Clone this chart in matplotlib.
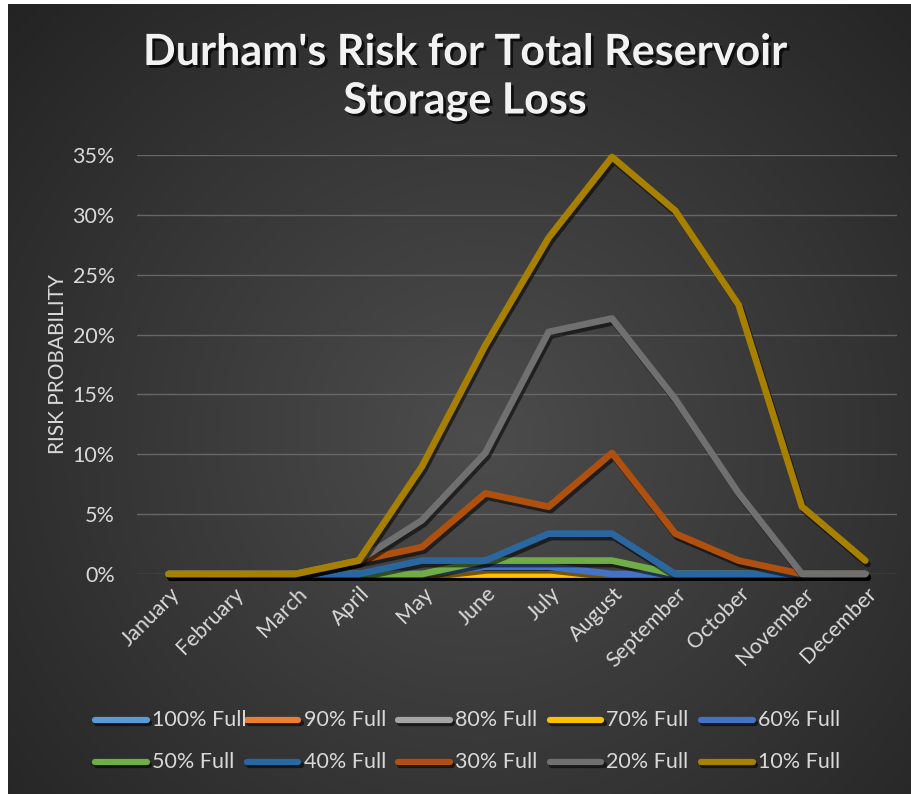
import numpy as np
import matplotlib
matplotlib.use("Agg")
import matplotlib.pyplot as plt
import matplotlib.patheffects as pe
import matplotlib.transforms as mtransforms
from matplotlib.lines import Line2D
from matplotlib.ticker import FuncFormatter, MultipleLocator

plt.rcParams['font.family'] = ['Lato', 'DejaVu Sans']

months = ["January", "February", "March", "April", "May", "June",
          "July", "August", "September", "October", "November", "December"]

series_names = ["100% Full", "90% Full", "80% Full", "70% Full", "60% Full",
                "50% Full", "40% Full", "30% Full", "20% Full", "10% Full"]

full_100 = [0, 0, 0, 0, 0, 0, 0, 0, 0, 0, 0, 0]
full_90 = [0, 0, 0, 0, 0, 0, 0, 0, 0, 0, 0, 0]
full_80 = [0, 0, 0, 0, 0, 0, 0, 0, 0, 0, 0, 0]
full_70 = [0, 0, 0, 0, 0, 0, 0, 0, 0, 0, 0, 0]
full_60 = [0, 0, 0, 0, 0, 0.6, 0.6, 0, 0, 0, 0, 0]
full_50 = [0, 0, 0, 0, 0, 1.12, 1.12, 1.12, 0, 0, 0, 0]
full_40 = [0, 0, 0, 0, 1.12, 1.12, 3.37, 3.37, 0, 0, 0, 0]
full_30 = [0, 0, 0, 1.12, 2.25, 6.74, 5.62, 10.11, 3.37, 1.12, 0, 0]
full_20 = [0, 0, 0, 1.12, 4.49, 10.11, 20.22, 21.35, 14.61, 6.74, 0, 0]
full_10 = [0, 0, 0, 1.12, 8.99, 19.1, 28.09, 34.83, 30.34, 22.47, 5.62, 1.12]

series_values = [full_100, full_90, full_80, full_70, full_60,
                 full_50, full_40, full_30, full_20, full_10]

line_colors = ["#5B9BD5", "#ED7D31", "#A5A5A5", "#FFC000", "#4472C4",
               "#70AD47", "#2A67A0", "#AF500F", "#707070", "#A88000"]

W, H = 912, 794
fig = plt.figure(figsize=(W / 100, H / 100), dpi=100, facecolor="white")

# dark radial-gradient backdrop (white strip on left and top edges)
bg = fig.add_axes([8 / W, 0, 1 - 8 / W, 1 - 4 / H], zorder=-10)
yy, xx = np.mgrid[0:1:400j, 0:1:460j]
r = np.sqrt(((xx - 0.52) / 0.75) ** 2 + ((yy - 0.45) / 0.85) ** 2)
shade = np.clip(0.30 - 0.17 * r, 0.13, 0.32)
bg.imshow(np.dstack([shade] * 3), aspect="auto", extent=[0, 1, 0, 1], origin="lower")
bg.set_axis_off()

left, right = 137 / W, 897 / W
bottom, top = 1 - 574 / H, 1 - 155 / H
ax = fig.add_axes([left, bottom, right - left, top - bottom])
ax.set_facecolor("none")

x = np.arange(len(months))
shadow = [pe.SimpleLineShadow(offset=(1.5, -2.5), shadow_color="black", alpha=0.55),
          pe.Normal()]
for name, vals, col in zip(series_names, series_values, line_colors):
    ax.plot(x, vals, color=col, lw=4.8, solid_joinstyle="round",
            solid_capstyle="round", path_effects=shadow, label=name, clip_on=False)

ax.set_xlim(-0.5, len(months) - 0.5)
ax.set_ylim(0, 35)
ax.yaxis.set_major_locator(MultipleLocator(5))
ax.yaxis.set_major_formatter(FuncFormatter(lambda v, p: f"{v:.0f}%"))
ax.grid(axis="y", color="#666666", lw=1)
ax.set_axisbelow(True)
for s in ax.spines.values():
    s.set_visible(False)
ax.tick_params(axis="both", length=0, colors="#D9D9D9", labelsize=15.5)
ax.tick_params(axis="y", pad=16)
ax.set_xticks(x)
ax.set_xticklabels(months, rotation=45, ha="right", va="center",
                   rotation_mode="anchor")
ax.tick_params(axis="x", pad=12)
shift = mtransforms.ScaledTranslation(8 / 100, 0, fig.dpi_scale_trans)
for lbl in ax.get_xticklabels():
    lbl.set_transform(lbl.get_transform() + shift)
ax.set_ylabel("RISK PROBABILITY", color="#D9D9D9", fontsize=15, labelpad=3)

# title with drop shadow
title_fx = [pe.SimplePatchShadow(offset=(2, -2), shadow_rgbFace="black", alpha=0.7),
            pe.Normal()]
fig.text(465 / W, 1 - 52 / H, "Durham's Risk for Total Reservoir", ha="center",
         va="center", color="#F2F2F2", fontsize=31, fontweight="bold",
         path_effects=title_fx)
fig.text(465 / W, 1 - 101 / H, "Storage Loss", ha="center", va="center",
         color="#F2F2F2", fontsize=31, fontweight="bold", path_effects=title_fx)

# legend laid out on an even grid, two rows of five
for i, (name, col) in enumerate(zip(series_names, line_colors)):
    row, c = divmod(i, 5)
    x0 = 95 + 151.5 * c
    y0 = 720 + 42 * row
    fig.add_artist(Line2D([x0 / W, (x0 + 52) / W], [1 - y0 / H, 1 - y0 / H],
                          transform=fig.transFigure, color=col, lw=4.5,
                          solid_capstyle="round", path_effects=shadow))
    fig.text((x0 + 57) / W, 1 - y0 / H, name, ha="left", va="center",
             color="#D9D9D9", fontsize=15.5)

fig.savefig("out.png", dpi=100, facecolor=fig.get_facecolor())
